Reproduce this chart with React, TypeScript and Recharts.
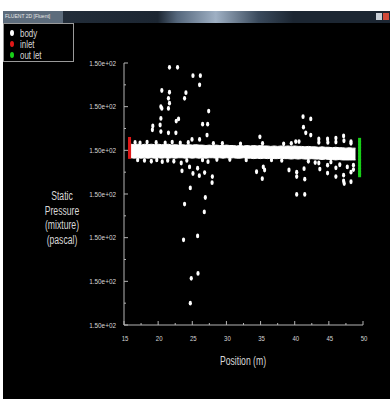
import React from 'react';
import { ComposedChart, Area, Scatter, XAxis, YAxis } from 'recharts';

// ---- axes ----
const xTicks = [15, 17.5, 20, 22.5, 25, 27.5, 30, 32.5, 35, 37.5, 40, 42.5, 45, 47.5, 50];
const yTicks = [149.96, 149.965, 149.97, 149.975, 149.98, 149.985, 149.99, 149.995, 150.0, 150.005, 150.01, 150.015, 150.02];
const yTitleLines = ['Static', 'Pressure', '(mixture)', '(pascal)'];
const xTitle = 'Position (m)';
const legendNames = ['body', 'inlet', 'out let'];

// ---- body: dense band envelope ----
const bandX = [16.0, 16.5, 17.0, 17.5, 18.0, 18.5, 19.0, 19.5, 20.0, 20.5, 21.0, 21.5, 22.0, 22.5, 23.0, 23.5, 24.0, 24.5, 25.0, 25.5, 26.0, 26.5, 27.0, 27.5, 28.0, 28.5, 29.0, 29.5, 30.0, 30.5, 31.0, 31.5, 32.0, 32.5, 33.0, 33.5, 34.0, 34.5, 35.0, 35.5, 36.0, 36.5, 37.0, 37.5, 38.0, 38.5, 39.0, 39.5, 40.0, 40.5, 41.0, 41.5, 42.0, 42.5, 43.0, 43.5, 44.0, 44.5, 45.0, 45.5, 46.0, 46.5, 47.0, 47.5, 48.0, 48.5, 48.9];
const bandHi = [150.0014, 150.0013, 150.0014, 150.0012, 150.0014, 150.0013, 150.0014, 150.0013, 150.0014, 150.0013, 150.0013, 150.0014, 150.0012, 150.0013, 150.0012, 150.0013, 150.0012, 150.0013, 150.0012, 150.0013, 150.0012, 150.0012, 150.0011, 150.0012, 150.0011, 150.0012, 150.0011, 150.0011, 150.0012, 150.0011, 150.0011, 150.0010, 150.0011, 150.0010, 150.0011, 150.0010, 150.0011, 150.0010, 150.0011, 150.0010, 150.0010, 150.0009, 150.0010, 150.0009, 150.0010, 150.0009, 150.0010, 150.0009, 150.0010, 150.0009, 150.0009, 150.0008, 150.0009, 150.0008, 150.0008, 150.0007, 150.0008, 150.0007, 150.0007, 150.0006, 150.0007, 150.0006, 150.0006, 150.0005, 150.0006, 150.0005, 150.0005];
const bandLo = [149.9983, 149.9982, 149.9983, 149.9982, 149.9983, 149.9982, 149.9983, 149.9982, 149.9983, 149.9982, 149.9983, 149.9982, 149.9983, 149.9982, 149.9983, 149.9983, 149.9982, 149.9983, 149.9982, 149.9983, 149.9982, 149.9983, 149.9982, 149.9983, 149.9983, 149.9982, 149.9983, 149.9982, 149.9983, 149.9982, 149.9983, 149.9982, 149.9982, 149.9983, 149.9982, 149.9982, 149.9981, 149.9982, 149.9981, 149.9982, 149.9981, 149.9982, 149.9981, 149.9981, 149.9982, 149.9981, 149.9981, 149.9980, 149.9981, 149.9980, 149.9981, 149.9980, 149.9980, 149.9981, 149.9980, 149.9980, 149.9979, 149.9980, 149.9979, 149.9979, 149.9978, 149.9979, 149.9978, 149.9978, 149.9978, 149.9978, 149.9978];

// ---- body: scattered points (outliers, spikes and drips) ----
const bodyX = [21.66, 22.84, 25.10, 26.18, 26.07, 20.54, 21.66, 24.07, 23.87, 21.51, 21.66, 20.40, 20.54, 21.51, 27.40, 20.40, 22.99, 22.65, 26.51, 27.25, 19.22, 19.16, 20.29, 20.40, 21.51, 22.60, 27.16, 24.96, 26.07, 41.22, 42.35, 41.28, 41.62, 42.35, 34.90, 40.15, 40.63, 47.16, 46.03, 44.81, 43.53, 48.24,
  16.62, 17.35, 18.38, 19.71, 21.03, 22.06, 23.24, 24.41, 28.09, 29.41, 32.06, 35.29, 38.38, 39.50, 43.53, 44.85, 46.03, 47.21, 48.24,
  24.71, 26.91, 27.94, 27.90, 23.38, 23.49, 25.10, 26.03, 24.60, 25.78, 26.81, 34.41, 35.40, 35.59, 35.25, 39.16, 40.29, 40.29, 41.37, 41.47, 40.29, 41.47, 23.87, 26.76, 23.72, 25.78, 25.84, 24.85, 24.71, 43.68, 47.25, 44.81, 46.03, 47.16, 48.24, 47.16, 48.24, 46.03, 44.81, 43.53,
  17.00, 18.00, 19.00, 19.80, 20.60, 21.40, 22.30, 24.20, 26.50, 27.30, 28.60, 30.50, 32.90, 36.60, 38.10, 42.00, 43.00, 45.30, 46.60, 47.70, 48.60, 48.60];
const bodyY = [150.0190, 150.0190, 150.0171, 150.0171, 150.0150, 150.0137, 150.0133, 150.0132, 150.0119, 150.0119, 150.0108, 150.0100, 150.0096, 150.0096, 150.0090, 150.0073, 150.0072, 150.0067, 150.0060, 150.0060, 150.0056, 150.0047, 150.0058, 150.0043, 150.0040, 150.0040, 150.0035, 150.0025, 150.0025, 150.0077, 150.0072, 150.0053, 150.0040, 150.0035, 150.0031, 150.0020, 150.0020, 150.0033, 150.0028, 150.0026, 150.0026, 150.0020,
  150.0018, 150.0017, 150.0019, 150.0018, 150.0017, 150.0019, 150.0017, 150.0018, 150.0016, 150.0016, 150.0015, 150.0016, 150.0015, 150.0016, 150.0018, 150.0018, 150.0019, 150.0022, 150.0016,
  149.9914, 149.9892, 149.9940, 149.9926, 149.9971, 149.9953, 149.9947, 149.9942, 149.9962, 149.9959, 149.9949, 149.9951, 149.9962, 149.9955, 149.9935, 149.9955, 149.9950, 149.9940, 149.9958, 149.9934, 149.9899, 149.9899, 149.9877, 149.9859, 149.9795, 149.9804, 149.9718, 149.9707, 149.9650, 149.9957, 149.9924, 149.9948, 149.9940, 149.9930, 149.9928, 149.9943, 149.9950, 149.9960, 149.9966, 149.9971,
  149.9978, 149.9977, 149.9975, 149.9978, 149.9974, 149.9977, 149.9975, 149.9977, 149.9978, 149.9974, 149.9979, 149.9979, 149.9978, 149.9978, 149.9977, 149.9975, 149.9972, 149.9973, 149.9967, 149.9962, 149.9966, 149.9956];

// ---- inlet / outlet ----
const inletX = 15.81;
const inletY = [150.0026, 150.0022, 150.0019, 150.0015, 150.0012, 150.0008, 150.0005, 150.0002, 149.9998, 149.9995, 149.9992, 149.9988, 149.9985];
const outletX = 49.5;
const outletY = [150.0024, 150.0017, 150.0010, 150.0003, 149.9996, 149.9989, 149.9982, 149.9976, 149.9969, 149.9962, 149.9955, 149.9948, 149.9943];

const bandData = bandX.map((x, i) => ({ x, range: [bandLo[i], bandHi[i]] }));
const bodyData = bodyX.map((x, i) => ({ x, y: bodyY[i] }));
const inletData = inletY.map((y) => ({ x: inletX, y }));
const outletData = outletY.map((y) => ({ x: outletX, y }));

const FONT = '"Liberation Sans", "DejaVu Sans", sans-serif';
const TICK_COLOR = '#b4b4b4';
const TEXT_COLOR = '#d8d8d8';

const fmtY = (v: number) => v.toExponential(2).replace(/e\+(\d)$/, 'e+0$1');

const YTick = (props: any) => {
  const { x, y, payload, index } = props;
  const major = index % 2 === 0;
  const ax = x + 8;
  return (
    <g>
      <line x1={ax} y1={y} x2={ax + (major ? 4 : 2)} y2={y} stroke={TICK_COLOR} strokeWidth={1} />
      {major && (
        <text transform={`translate(${x},${y}) scale(0.8,1)`} x={0} y={0} textAnchor="end" dominantBaseline="central" fontSize={8} fontFamily={FONT} fill={TEXT_COLOR}>
          {fmtY(payload.value)}
        </text>
      )}
    </g>
  );
};

const XTick = (props: any) => {
  const { x, y, payload, index } = props;
  const major = index % 2 === 0;
  const ay = y - 10;
  return (
    <g>
      <line x1={x} y1={ay} x2={x} y2={ay - (major ? 4 : 2)} stroke={TICK_COLOR} strokeWidth={1} />
      {major && (
        <text transform={`translate(${x + 1},${y + 6}) scale(0.75,1)`} x={0} y={0} textAnchor="middle" fontSize={8} fontFamily={FONT} fill={TEXT_COLOR}>
          {payload.value}
        </text>
      )}
    </g>
  );
};

const dotShape = (color: string, rx: number, ry: number) => (p: any) => (
  <ellipse cx={p.cx} cy={p.cy} rx={rx} ry={ry} fill={color} />
);
const barShape = (color: string, w: number, h: number) => (p: any) => (
  <rect x={p.cx - w / 2} y={p.cy - h / 2} width={w} height={h} fill={color} />
);

const narrow = (sx: number, origin: string): React.CSSProperties => ({ transform: `scaleX(${sx})`, transformOrigin: origin });

export default function App() {
  return (
    <div style={{ position: 'absolute', left: 0, top: 0, width: 391, height: 399, background: '#ffffff', overflow: 'hidden', fontFamily: FONT }}>
      {/* window title bar */}
      <div style={{ position: 'absolute', left: 3, top: 11, width: 387, height: 12, background: 'linear-gradient(90deg, #26313e 0%, #1c2632 40%, #55677c 45%, #9fb0c4 55%, #3a4a5c 66%, #1c2632 75%, #1c2632 100%)' }} />
      <div style={{ position: 'absolute', left: 3, top: 11, width: 60, height: 12, background: '#5d6c7c' }} />
      <div style={{ position: 'absolute', left: 5, top: 13, fontSize: 5, color: '#e8e8e8', whiteSpace: 'nowrap' }}>FLUENT 2D [Fluent]</div>
      <div style={{ position: 'absolute', left: 376, top: 13, width: 6, height: 7, background: '#c9d0d8' }} />
      <div style={{ position: 'absolute', left: 383, top: 13, width: 6, height: 7, background: '#d24a3a' }} />
      {/* black graphics area */}
      <div style={{ position: 'absolute', left: 3, top: 23, width: 387, height: 376, background: '#000000' }} />

      {/* legend */}
      <div style={{ position: 'absolute', left: 3, top: 23, width: 69, height: 37, border: '1px solid #9a9a9a', background: '#000' }}>
        {legendNames.map((n, i) => (
          <div key={n} style={{ position: 'absolute', left: 6, top: 4 + i * 11, height: 10, display: 'flex', alignItems: 'center', whiteSpace: 'nowrap' }}>
            <span style={{ display: 'inline-block', width: 4, height: 6, borderRadius: '50%', background: ['#ffffff', '#e01818', '#18d018'][i], marginRight: 6 }} />
            <span style={{ fontSize: 11, color: TEXT_COLOR, lineHeight: '10px', display: 'inline-block', ...narrow(0.72, 'left center') }}>{n}</span>
          </div>
        ))}
      </div>

      {/* y axis title */}
      <div style={{ position: 'absolute', left: 22, top: 189, width: 80, textAlign: 'center', color: TEXT_COLOR, fontSize: 12, lineHeight: '14.5px', ...narrow(0.72, '40px 0') }}>
        {yTitleLines.map((l) => (
          <div key={l}>{l}</div>
        ))}
      </div>
      {/* x axis title */}
      <div style={{ position: 'absolute', left: 183, top: 354, width: 120, textAlign: 'center', color: TEXT_COLOR, fontSize: 12, ...narrow(0.72, '60px 0') }}>{xTitle}</div>

      <div style={{ position: 'absolute', left: 0, top: 0 }}>
        <ComposedChart width={391} height={399} data={bandData} margin={{ top: 63, right: 28, bottom: 44, left: 64 }}>
          <XAxis
            dataKey="x"
            type="number"
            domain={[15, 50]}
            ticks={xTicks}
            interval={0}
            tickSize={0}
            tickMargin={10}
            height={30}
            axisLine={{ stroke: TICK_COLOR }}
            tickLine={false}
            tick={<XTick />}
          />
          <YAxis
            type="number"
            domain={[149.96, 150.02]}
            ticks={yTicks}
            interval={0}
            tickSize={0}
            tickMargin={8}
            width={60}
            allowDataOverflow
            axisLine={{ stroke: TICK_COLOR }}
            tickLine={false}
            tick={<YTick />}
          />
          <Area dataKey="range" type="linear" stroke="#ffffff" strokeWidth={1} fill="#ffffff" fillOpacity={1} isAnimationActive={false} dot={false} activeDot={false} />
          <Scatter data={bodyData} dataKey="y" fill="#ffffff" shape={dotShape('#ffffff', 1.6, 2.4)} isAnimationActive={false} />
          <Scatter data={inletData} dataKey="y" fill="#e01818" shape={barShape('#e01818', 3, 4)} isAnimationActive={false} />
          <Scatter data={outletData} dataKey="y" fill="#18d018" shape={barShape('#18d018', 3, 4)} isAnimationActive={false} />
        </ComposedChart>
      </div>
    </div>
  );
}
